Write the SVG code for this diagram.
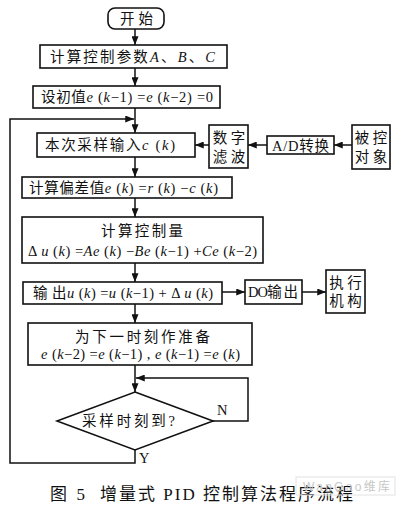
<svg xmlns="http://www.w3.org/2000/svg" width="400" height="509" viewBox="0 0 400 509">
<defs>
<marker id="ah" viewBox="0 0 10 8" refX="10" refY="4" markerWidth="9" markerHeight="7" markerUnits="userSpaceOnUse" orient="auto">
<path d="M0,0 L10,4 L0,8 Z" fill="#111"/>
</marker>
<style>
.box{fill:#fff;stroke:#111;stroke-width:1.6}
.ln{fill:none;stroke:#111;stroke-width:1.5}
.ar{fill:none;stroke:#111;stroke-width:1.5;marker-end:url(#ah)}
text{font-family:"Liberation Serif","Noto Sans CJK SC",serif;font-size:14.5px;fill:#111}
.c{text-anchor:middle}
.i{font-style:italic}
.cap{font-size:17px}
.wm{font-family:"Liberation Sans","Noto Sans CJK SC",sans-serif;font-size:12px;fill:#c8c8c8}
</style>
</defs>
<rect width="400" height="509" fill="#fff"/>

<g id="connectors">
<line class="ar" x1="135" y1="29" x2="135" y2="45"/>
<line class="ar" x1="135" y1="68" x2="135" y2="86"/>
<line class="ar" x1="135" y1="108" x2="135" y2="133"/>
<line class="ar" x1="135" y1="157" x2="135" y2="177"/>
<line class="ar" x1="135" y1="198" x2="135" y2="217"/>
<line class="ar" x1="135" y1="263" x2="135" y2="282"/>
<line class="ar" x1="135" y1="304" x2="135" y2="323"/>
<line class="ar" x1="135" y1="365" x2="135" y2="392"/>
<line class="ar" x1="352" y1="145" x2="334" y2="145"/>
<line class="ar" x1="267" y1="145" x2="248" y2="145"/>
<line class="ar" x1="209" y1="145" x2="195" y2="145"/>
<line class="ar" x1="222" y1="292" x2="245" y2="292"/>
<line class="ar" x1="302" y1="292" x2="326" y2="292"/>
<polyline class="ar" points="213,421 248,421 248,378 136,378"/>
<polyline class="ar" points="135,450 135,463 10,463 10,119 134,119"/>
<text x="217" y="415" font-size="13">N</text>
<text x="139" y="463" font-size="13">Y</text>
</g>

<g id="start">
<rect class="box" x="108" y="8" width="56" height="21" rx="7"/>
<text x="120" y="24" font-size="15" textLength="33" lengthAdjust="spacing">开始</text>
</g>

<g id="calc-params">
<rect class="box" x="40" y="45" width="187" height="23"/>
<text x="50" y="62" textLength="165" lengthAdjust="spacing">计算控制参数<tspan class="i">A</tspan>、<tspan class="i">B</tspan>、<tspan class="i">C</tspan></text>
</g>

<g id="init">
<rect class="box" x="33" y="86" width="187" height="22"/>
<text x="41" y="102" textLength="172" lengthAdjust="spacing">设初值<tspan class="i">e</tspan> (<tspan class="i">k</tspan>−1) =<tspan class="i">e</tspan> (<tspan class="i">k</tspan>−2) =0</text>
</g>

<g id="sample">
<rect class="box" x="37" y="133" width="158" height="24"/>
<text x="45" y="150" textLength="130" lengthAdjust="spacing">本次采样输入<tspan class="i">c</tspan> (<tspan class="i">k</tspan>)</text>
</g>

<g id="filter">
<rect class="box" x="209" y="125" width="39" height="43"/>
<text x="229" y="143" class="c" font-size="15">数 字</text>
<text x="229" y="162" class="c" font-size="15">滤 波</text>
</g>

<g id="adc">
<rect class="box" x="267" y="136" width="67" height="18"/>
<text x="272" y="150.5" textLength="57" lengthAdjust="spacing">A/D转换</text>
</g>

<g id="plant">
<rect class="box" x="352" y="125" width="38" height="44"/>
<text x="371" y="143" class="c" font-size="15">被 控</text>
<text x="371" y="162" class="c" font-size="15">对 象</text>
</g>

<g id="error">
<rect class="box" x="22" y="177" width="210" height="21"/>
<text x="29" y="193" textLength="189" lengthAdjust="spacing">计算偏差值<tspan class="i">e</tspan> (<tspan class="i">k</tspan>) =<tspan class="i">r</tspan> (<tspan class="i">k</tspan>) −<tspan class="i">c</tspan> (<tspan class="i">k</tspan>)</text>
</g>

<g id="control">
<rect class="box" x="22" y="217" width="241" height="46"/>
<text x="142" y="236" class="c" textLength="82" lengthAdjust="spacing">计算控制量</text>
<text x="28" y="256" textLength="229" lengthAdjust="spacing">Δ <tspan class="i">u</tspan> (<tspan class="i">k</tspan>) =<tspan class="i">Ae</tspan> (<tspan class="i">k</tspan>) −<tspan class="i">Be</tspan> (<tspan class="i">k</tspan>−1) +<tspan class="i">Ce</tspan> (<tspan class="i">k</tspan>−2)</text>
</g>

<g id="output">
<rect class="box" x="23" y="282" width="199" height="22"/>
<text x="33" y="298" textLength="180" lengthAdjust="spacing">输 出<tspan class="i">u</tspan> (<tspan class="i">k</tspan>) =<tspan class="i">u</tspan> (<tspan class="i">k</tspan>−1) + Δ <tspan class="i">u</tspan> (<tspan class="i">k</tspan>)</text>
</g>

<g id="do-out">
<rect class="box" x="245" y="280" width="57" height="24"/>
<text x="248" y="297" textLength="50" lengthAdjust="spacing">DO输 出</text>
</g>

<g id="actuator">
<rect class="box" x="326" y="270" width="39" height="43"/>
<text x="345.5" y="288" class="c" font-size="15">执 行</text>
<text x="345.5" y="306" class="c" font-size="15">机 构</text>
</g>

<g id="prepare">
<rect class="box" x="28" y="323" width="224" height="42"/>
<text x="75" y="342" textLength="135" lengthAdjust="spacing">为下一时刻作准备</text>
<text x="41" y="359" textLength="199" lengthAdjust="spacing"><tspan class="i">e</tspan> (<tspan class="i">k</tspan>−2) =<tspan class="i">e</tspan> (<tspan class="i">k</tspan>−1) , <tspan class="i">e</tspan> (<tspan class="i">k</tspan>−1) =<tspan class="i">e</tspan> (<tspan class="i">k</tspan>)</text>
</g>

<g id="decision">
<polygon class="box" points="135,392 213,421 135,450 57,421"/>
<text x="82" y="426" textLength="93" lengthAdjust="spacing">采样时刻到?</text>
</g>

<g id="caption">
<text x="50" y="500" class="cap" textLength="35" lengthAdjust="spacing">图 5</text>
<text x="100" y="500" class="cap" textLength="253" lengthAdjust="spacing">增量式 PID 控制算法程序流程</text>
</g>

<g id="watermark">
<rect x="296" y="477" width="99" height="18" fill="none" stroke="#e2e2e2" stroke-width="1"/>
<text x="303" y="491" class="wm" textLength="87" lengthAdjust="spacing">WanGao维库</text>
</g>
</svg>
